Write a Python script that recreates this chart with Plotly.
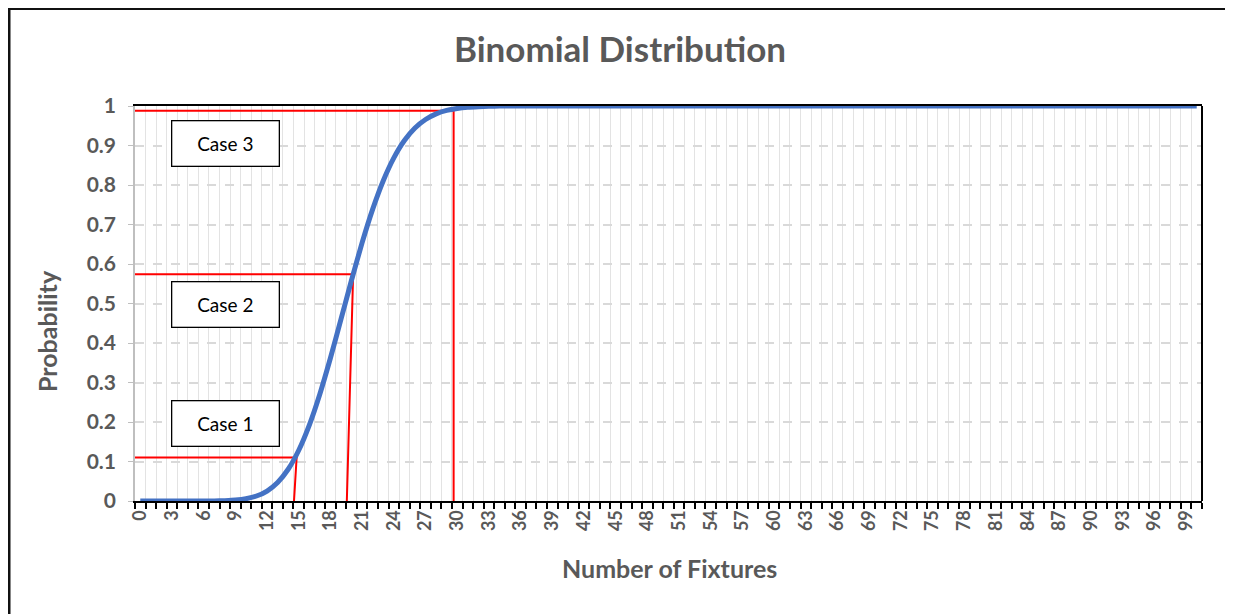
import plotly.graph_objects as go

# ---------------- data ----------------
fixtures = list(range(0, 101))
cum_prob = [
    0.0, 0.0, 0.0, 0.0, 0.0, 0.0, 0.0001, 0.0003, 0.0009, 0.0023,
    0.0057, 0.0126, 0.0253, 0.0469, 0.0804, 0.1285, 0.1923, 0.2712, 0.3621, 0.4602,
    0.5595, 0.654, 0.7389, 0.8109, 0.8686, 0.9125, 0.9442, 0.9658, 0.98, 0.9888,
    0.9939, 0.9969, 0.9984, 0.9993, 0.9997, 0.9999, 1.0, 1.0, 1.0, 1.0,
    1.0, 1.0, 1.0, 1.0, 1.0, 1.0, 1.0, 1.0, 1.0, 1.0,
    1.0, 1.0, 1.0, 1.0, 1.0, 1.0, 1.0, 1.0, 1.0, 1.0,
    1.0, 1.0, 1.0, 1.0, 1.0, 1.0, 1.0, 1.0, 1.0, 1.0,
    1.0, 1.0, 1.0, 1.0, 1.0, 1.0, 1.0, 1.0, 1.0, 1.0,
    1.0, 1.0, 1.0, 1.0, 1.0, 1.0, 1.0, 1.0, 1.0, 1.0,
    1.0, 1.0, 1.0, 1.0, 1.0, 1.0, 1.0, 1.0, 1.0, 1.0,
    1.0,
]
x_tick_values = list(range(0, 100, 3))
x_tick_labels = [str(v) for v in x_tick_values]
y_tick_values = [0, 0.1, 0.2, 0.3, 0.4, 0.5, 0.6, 0.7, 0.8, 0.9, 1]
y_tick_labels = ["0", "0.1", "0.2", "0.3", "0.4", "0.5", "0.6", "0.7", "0.8", "0.9", "1"]

# case marker lines: probability level, fixture count at the curve and at the axis
case_labels = ["Case 1", "Case 2", "Case 3"]
case_prob = [0.11, 0.574, 0.988]
case_x_top = [14.8, 20.15, 29.66]
case_x_bottom = [14.55, 19.55, 29.66]
case_box_x = [8.1, 8.1, 8.1]
case_box_y = [0.195, 0.497, 0.906]

# ---------------- styling ----------------
GRAY = "#595959"
FONT = "Lato"
X_LEFT = -0.5

# figure is placed at page offset (8, 8) by the default body margin
W, H = 1225, 606
ML, MR, MT, MB = 127, 31, 98, 113
PW, PH = W - ML - MR, H - MT - MB

fig = go.Figure()

for lab, p, xt, xb in zip(case_labels, case_prob, case_x_top, case_x_bottom):
    fig.add_trace(go.Scatter(
        x=[X_LEFT, xt, xb], y=[p, p, 0], mode="lines",
        line=dict(color="#FF0000", width=2), name=lab, hoverinfo="skip",
        showlegend=False, cliponaxis=False,
    ))

fig.add_trace(go.Scatter(
    x=fixtures, y=cum_prob, mode="lines",
    line=dict(color="#4472C4", width=5, shape="spline", smoothing=0.5),
    name="Probability", showlegend=False, cliponaxis=False,
))

for lab, bx, by in zip(case_labels, case_box_x, case_box_y):
    fig.add_annotation(
        x=bx, y=by, xref="x", yref="y", text=lab, showarrow=False,
        font=dict(family=FONT, size=19, color="black"),
        bgcolor="white", bordercolor="black", borderwidth=1.3,
        width=104, height=42, xanchor="center", yanchor="middle",
    )

# axis titles
fig.add_annotation(
    x=(39 - ML) / PW, y=1 - (331 - 8 - MT) / PH, xref="paper", yref="paper",
    text="Probability", textangle=-90, showarrow=False,
    xanchor="center", yanchor="middle",
    font=dict(family=FONT, size=25, color=GRAY, weight="bold"),
)
fig.add_annotation(
    x=(661 - ML) / PW, y=1 - (560 - MT) / PH, xref="paper", yref="paper",
    text="Number of Fixtures", showarrow=False, xanchor="center", yanchor="middle",
    font=dict(family=FONT, size=25, color=GRAY, weight="bold"),
)

# right border of plot area
fig.add_shape(type="line", xref="paper", yref="paper", x0=1, x1=1, y0=0, y1=1,
              line=dict(color="black", width=2))
# outer chart frame
fig.add_shape(type="rect", xref="paper", yref="paper",
              x0=(1 - ML) / PW, x1=(W - 3 - ML) / PW,
              y0=-0.4, y1=1 + (MT - 0.5) / PH,
              line=dict(color="#111111", width=3), layer="below")

fig.update_xaxes(
    range=[-0.5, 100.5],
    tickmode="array", tickvals=x_tick_values, ticktext=x_tick_labels,
    tickangle=-90, ticks="",
    tickfont=dict(family=FONT, size=18, color=GRAY, weight="bold"),
    showgrid=False, zeroline=False,
    showline=True, linecolor="black", linewidth=2, mirror=True,
    minor=dict(tick0=-0.5, dtick=1, ticks="outside", ticklen=6,
               tickcolor="black", tickwidth=2,
               showgrid=True, gridcolor="#E3E3E3", gridwidth=1),
)
fig.update_yaxes(
    range=[0, 1],
    tickmode="array", tickvals=y_tick_values, ticktext=y_tick_labels,
    tickfont=dict(family=FONT, size=21, color=GRAY, weight="bold"),
    ticks="outside", ticklen=5, tickcolor="#BFBFBF", ticklabelstandoff=8,
    showgrid=True, gridcolor="#D9D9D9", gridwidth=1.5, griddash="dash",
    zeroline=False, showline=True, linecolor="#BFBFBF", linewidth=1.5,
)

fig.update_layout(
    width=W, height=H,
    margin=dict(l=ML, r=MR, t=MT, b=MB),
    paper_bgcolor="white", plot_bgcolor="white",
    title=dict(text="Binomial Distribution", x=612 / W, xref="container",
               xanchor="center", y=1 - 42 / H, yref="container", yanchor="middle",
               font=dict(family=FONT, size=35, color=GRAY, weight="bold")),
    showlegend=False,
)

fig.write_html("out.html")
